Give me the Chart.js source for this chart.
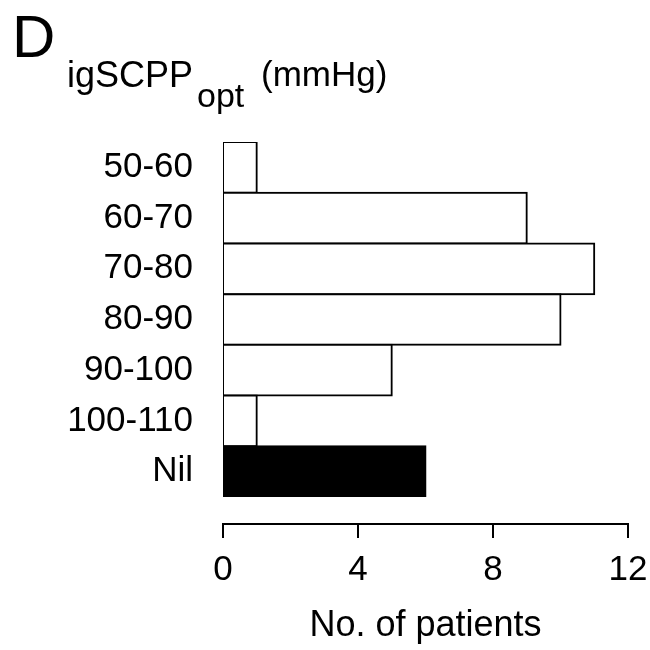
<!DOCTYPE html>
<html>
<head>
<meta charset="utf-8">
<script src="https://cdn.jsdelivr.net/npm/chart.js@4.4.1/dist/chart.umd.min.js"></script>
<style>
  body { margin: 0; background: #fff; }
  canvas { display: block; }
</style>
</head>
<body>
<canvas id="myChart" width="650" height="650"></canvas>
<script>
// Data
const ranges = ['50-60', '60-70', '70-80', '80-90', '90-100', '100-110', 'Nil'];
const patients = [1, 9, 11, 10, 5, 1, 6];
const xTicks = [0, 4, 8, 12];

const FONT = "'Liberation Sans', Arial, Helvetica, sans-serif";

// Panel letter and the y title with subscript
const headerPlugin = {
    id: 'header',
    afterDraw(chart) {
        const ctx = chart.ctx;
        ctx.save();
        ctx.fillStyle = '#000';
        ctx.textAlign = 'left';
        ctx.textBaseline = 'alphabetic';
        ctx.font = '60px ' + FONT;
        ctx.fillText('D', 12, 57);
        ctx.font = '36px ' + FONT;
        ctx.fillText('igSCPP', 67, 87);
        ctx.font = '34px ' + FONT;
        ctx.fillText('opt', 197, 107);
        ctx.font = '35px ' + FONT;
        ctx.fillText('(mmHg)', 261, 86);
        ctx.restore();
    }
};

// x axis is drawn detached from the bars, as in the figure
const axisPlugin = {
    id: 'detachedAxis',
    afterDraw(chart) {
        const ctx = chart.ctx;
        const x = chart.scales.x;
        const y = chart.chartArea.bottom + 27;
        ctx.save();
        ctx.strokeStyle = '#000';
        ctx.lineWidth = 2;
        ctx.lineCap = 'square';
        ctx.beginPath();
        ctx.moveTo(x.getPixelForValue(xTicks[0]), y);
        ctx.lineTo(x.getPixelForValue(xTicks[xTicks.length - 1]), y);
        xTicks.forEach(v => {
            const px = x.getPixelForValue(v);
            ctx.moveTo(px, y);
            ctx.lineTo(px, y + 13);
        });
        ctx.stroke();
        ctx.restore();
    }
};

const ctx = document.getElementById('myChart').getContext('2d');

new Chart(ctx, {
    type: 'bar',
    data: {
        labels: ranges,
        datasets: [{
            data: patients,
            backgroundColor: c => ranges[c.dataIndex] === 'Nil' ? '#000' : '#fff',
            borderColor: '#000',
            borderWidth: 2,
            borderSkipped: false,
            inflateAmount: 1,
            barPercentage: 1,
            categoryPercentage: 1
        }]
    },
    options: {
        indexAxis: 'y',
        responsive: false,
        animation: false,
        layout: { padding: { top: 142, right: 22, left: 0, bottom: 0 } },
        plugins: {
            legend: { display: false },
            tooltip: { enabled: false }
        },
        scales: {
            x: {
                min: 0,
                max: 12,
                afterBuildTicks: s => { s.ticks = xTicks.map(v => ({ value: v })); },
                afterFit: s => {
                    s.height = 153;
                    // tick padding is only meant to be vertical here
                    s.paddingLeft = 0;
                    s.paddingRight = 20;
                },
                grid: { display: false, drawTicks: false },
                border: { display: false },
                ticks: {
                    color: '#000',
                    padding: 52,
                    maxRotation: 0,
                    font: { family: FONT, size: 35 }
                },
                title: {
                    display: true,
                    text: 'No. of patients',
                    color: '#000',
                    padding: { top: 0, bottom: 2 },
                    font: { family: FONT, size: 36 }
                }
            },
            y: {
                afterFit: s => { s.width = 223; },
                grid: { display: false, drawTicks: false },
                border: { display: false },
                ticks: {
                    color: '#000',
                    padding: 30,
                    font: { family: FONT, size: 35 }
                }
            }
        }
    },
    plugins: [headerPlugin, axisPlugin]
});
</script>
</body>
</html>
